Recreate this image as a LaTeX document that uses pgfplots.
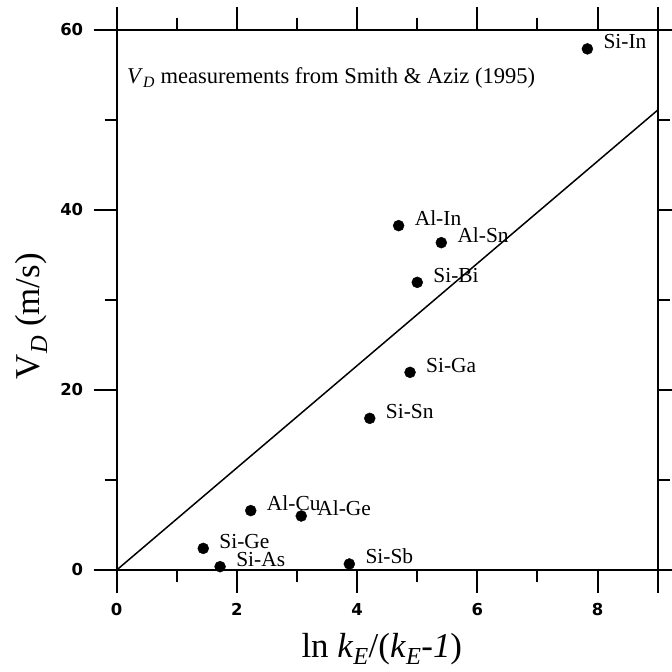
\documentclass[border=0pt]{standalone}
\usepackage{fontspec}
\usepackage{amsmath}
\setmainfont{Liberation Serif}
\setsansfont{DejaVu Sans}
\usepackage{pgfplots}
\usepackage{pgfplotstable}
\pgfplotsset{compat=1.18}

\pgfplotstableread{
x y label
2.23 6.6 Al-Cu
3.07 6.0 Al-Ge
1.44 2.4 Si-Ge
1.72 0.37 Si-As
3.87 0.67 Si-Sb
4.69 38.26 Al-In
5.40 36.37 Al-Sn
5.00 31.96 Si-Bi
4.88 21.96 Si-Ga
4.21 16.85 Si-Sn
7.83 57.9 Si-In
}\datatable

\begin{document}
\begin{tikzpicture}
\begin{axis}[
  width=541bp, height=540bp, scale only axis,
  xmin=0, xmax=9, ymin=0, ymax=60,
  xtick={0,2,4,6,8}, minor xtick={1,3,5,7,9},
  ytick={0,20,40,60}, minor ytick={10,30,50},
  tick align=outside,
  major tick length=23bp, minor tick length=12bp,
  every tick/.style={black, line width=2bp},
  axis line style={line width=2bp},
  tick label style={font=\fontsize{16.5}{16.5}\selectfont\sffamily\bfseries},
  /pgf/number format/assume math mode=true,
  xticklabel style={yshift=-7bp},
  yticklabel style={xshift=-7bp},
  xlabel={ln \textit{k}$_{\text{\textit{E}}}$/(\textit{k}$_{\text{\textit{E}}}$-\textit{1})},
  ylabel={V$_{\text{\textit{D}}}$ (m/s)},
  label style={font=\fontsize{35}{35}\selectfont},
  xlabel style={at={(axis description cs:0.49,0)}, anchor=base, yshift=-87bp},
  ylabel style={at={(axis description cs:0,0.47)}, anchor=base, yshift=77bp},
  clip=false,
]
\addplot[line width=1.5bp, black] coordinates {(0,0) (9,51.1)};
\addplot[only marks, mark=*, mark size=5.5bp, black,
  point meta=explicit symbolic,
  nodes near coords,
  nodes near coords align={anchor=base west},
  every node near coord/.append style={anchor=base west, inner sep=0pt, xshift=16bp,
     font=\fontsize{21.5}{21.5}\selectfont, text=black},
] table[x=x, y=y, meta=label] {\datatable};
\node[anchor=base west, inner sep=0pt, font=\fontsize{22.6}{22.6}\selectfont]
  at (axis cs:0.17,54) {\textit{V}$_{\text{\textit{D}}}$ measurements from Smith \& Aziz (1995)};
\draw[line width=2bp] ([xshift=-23bp]rel axis cs:0,0) -- ([xshift=14bp]rel axis cs:1,0);
\draw[line width=2bp] ([xshift=-23bp]rel axis cs:0,1) -- ([xshift=14bp]rel axis cs:1,1);
\draw[line width=2bp] ([yshift=-23bp]rel axis cs:0,0) -- ([yshift=23bp]rel axis cs:0,1);
\draw[line width=2bp] ([yshift=-23bp]rel axis cs:1,0) -- ([yshift=23bp]rel axis cs:1,1);
\coordinate (SW) at (rel axis cs:0,0);
\coordinate (NE) at (rel axis cs:1,1);
\end{axis}
\pgfresetboundingbox
\path ([shift={(-116.7bp,-102bp)}]SW) rectangle ([shift={(13.3bp,30bp)}]NE);
\end{tikzpicture}
\end{document}
